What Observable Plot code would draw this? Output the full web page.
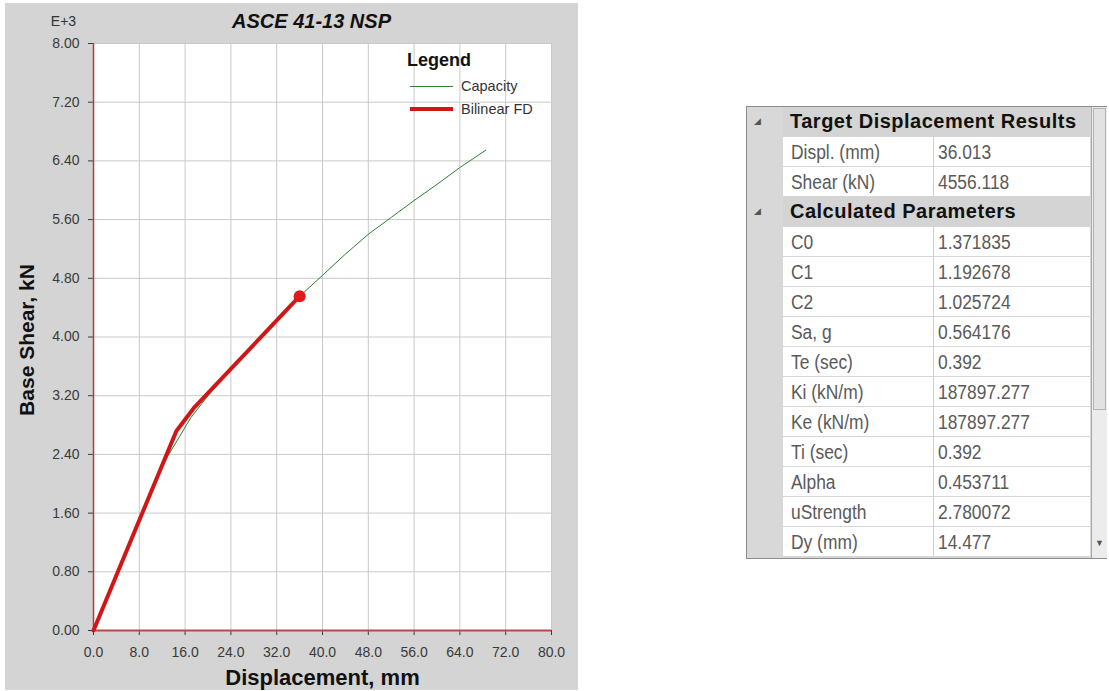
<!DOCTYPE html>
<html>
<head>
<meta charset="utf-8">
<script src="https://cdn.jsdelivr.net/npm/d3@7"></script>
<script src="https://cdn.jsdelivr.net/npm/@observablehq/plot@0.6"></script>
<style>
  html, body { margin: 0; padding: 0; background: #ffffff; }
  #page { position: relative; width: 1109px; height: 691px; overflow: hidden; font-family: "Liberation Sans", Arial, sans-serif; }
  #chart { position: absolute; left: 5px; top: 3px; }
  #legend { position: absolute; left: 404px; top: 49px; width: 140px; height: 75px; font-family: "Liberation Sans", Arial, sans-serif; color: #333; }
  #legend .title { position: absolute; left: 3px; top: 0; font-weight: bold; font-size: 18px; line-height: 22px; color: #111; }
  #legend .item { position: absolute; left: 57px; font-size: 14.5px; line-height: 16px; color: #333; }
  #legend .sw { position: absolute; left: 6px; height: 0; width: 43px; }
  #table { position: absolute; left: 746px; top: 106px; width: 359px; height: 451px; border: 1px solid #8c8c8c; background: #d8d8d8; }
  .row { position: absolute; left: 36px; width: 307px; height: 30px; box-sizing: border-box; }
  .row.head { background: #d4d4d4; border-bottom: 1px solid #d4d4d4; }
  .row.data { background: #ffffff; border-bottom: 1px solid #d6d6d6; }
  .row .lab, .row .val { position: absolute; top: 0; height: 29px; line-height: 30px; font-family: "Liberation Sans", Arial, sans-serif; font-size: 20px; color: #5a5a5a; white-space: nowrap; }
  .row .lab { left: 8px; }
  .row .val { left: 150px; border-left: 1px solid #cfcfcf; padding-left: 4px; height: 30px; }
  .row .lab span, .row .val span { display: inline-block; transform: scaleX(0.87); transform-origin: 0 50%; }
  .row .htxt { position: absolute; left: 7px; top: 0; line-height: 29px; font-weight: bold; font-size: 20px; color: #111; white-space: nowrap; letter-spacing: 0.5px; }
  .tri { position: absolute; left: -29px; top: 9px; font-size: 9px; color: #555; }
  #scroll { position: absolute; left: 344px; top: 0; width: 15px; height: 451px; background: #ececec; border-left: 1px solid #a8a8a8; }
  #thumb { position: absolute; left: 1px; top: 1px; width: 11px; height: 300px; background: #e2e2e2; border: 1px solid #b4b4b4; }
  #arrow { position: absolute; left: 3px; top: 431px; font-size: 9px; color: #555; }
</style>
</head>
<body>
<div id="page">
  <div id="chart"></div>
  <div id="legend"></div>
  <div id="table"></div>
</div>
<script>
// ---- chart data ----
const chartTitle = "ASCE 41-13 NSP";
const xLabel = "Displacement, mm";
const yLabel = "Base Shear, kN";
const yExponent = "E+3";

const xTicks = [0, 8, 16, 24, 32, 40, 48, 56, 64, 72, 80];
const xTickLabels = ["0.0", "8.0", "16.0", "24.0", "32.0", "40.0", "48.0", "56.0", "64.0", "72.0", "80.0"];
const yTicks = [0, 800, 1600, 2400, 3200, 4000, 4800, 5600, 6400, 7200, 8000];
const yTickLabels = ["0.00", "0.80", "1.60", "2.40", "3.20", "4.00", "4.80", "5.60", "6.40", "7.20", "8.00"];

// Capacity curve (displacement mm, base shear kN)
const capacityDispl = [0, 4, 8, 11, 13, 15, 17, 20, 24, 28, 32, 36.013, 40, 44, 48, 52, 56, 60, 64, 68.5];
const capacityShear = [0, 750, 1500, 2060, 2380, 2640, 2900, 3200, 3560, 3880, 4200, 4556, 4840, 5130, 5400, 5630, 5860, 6080, 6310, 6545];

// Bilinear force-displacement
const bilinearDispl = [0, 14.477, 17.5, 36.013];
const bilinearShear = [0, 2720, 3030, 4556.118];

// Target point
const targetDispl = [36.013];
const targetShear = [4556.118];

const seriesNames = ["Capacity", "Bilinear FD"];
const legendTitle = "Legend";

// ---- table data ----
const tableLabels = ["Target Displacement Results", "Displ. (mm)", "Shear (kN)", "Calculated Parameters", "C0", "C1", "C2", "Sa, g", "Te (sec)", "Ki (kN/m)", "Ke (kN/m)", "Ti (sec)", "Alpha", "uStrength", "Dy (mm)"];
const tableValues = [null, "36.013", "4556.118", null, "1.371835", "1.192678", "1.025724", "0.564176", "0.392", "187897.277", "187897.277", "0.392", "0.453711", "2.780072", "14.477"];

// ---- build chart ----
const capacity = capacityDispl.map((d, i) => ({d, v: capacityShear[i]}));
const bilinear = bilinearDispl.map((d, i) => ({d, v: bilinearShear[i]}));
const target = targetDispl.map((d, i) => ({d, v: targetShear[i]}));

const chart = Plot.plot({
  width: 573,
  height: 687,
  marginLeft: 88,
  marginRight: 27,
  marginTop: 40,
  marginBottom: 60,
  style: {background: "#d4d4d4", fontFamily: "'Liberation Sans', Arial, sans-serif", fontSize: "14px", color: "#333", overflow: "visible"},
  x: {domain: [0, 80], axis: null},
  y: {domain: [0, 8000], axis: null},
  marks: [
    Plot.frame({fill: "white", stroke: null}),
    Plot.gridX(xTicks, {stroke: "#c9c9c9", strokeOpacity: 1}),
    Plot.gridY(yTicks, {stroke: "#c9c9c9", strokeOpacity: 1}),
    Plot.axisX(xTicks, {tickFormat: () => "", tickSize: 5, label: null, stroke: "#3a3a3a", anchor: "bottom"}),
    Plot.axisY(yTicks, {tickFormat: () => "", tickSize: 5, label: null, stroke: "#3a3a3a", anchor: "left"}),
    Plot.text(xTicks, {x: d => d, text: d => xTickLabels[xTicks.indexOf(d)], frameAnchor: "bottom", dy: 22, textAnchor: "middle", lineAnchor: "middle", fontSize: 14, fill: "#3a3a3a"}),
    Plot.text(yTicks, {y: d => d, text: d => yTickLabels[yTicks.indexOf(d)], frameAnchor: "left", dx: -14, textAnchor: "end", lineAnchor: "middle", fontSize: 14, fill: "#3a3a3a"}),
    Plot.ruleX([0], {stroke: "#b53a3a", strokeWidth: 1.5}),
    Plot.ruleY([0], {stroke: "#b84848", strokeWidth: 2}),
    Plot.line(capacity, {x: "d", y: "v", stroke: "#2f7d32", strokeWidth: 1}),
    Plot.line(bilinear, {x: "d", y: "v", stroke: "#d01616", strokeWidth: 4, strokeLinejoin: "round", strokeLinecap: "round"}),
    Plot.dot(target, {x: "d", y: "v", r: 6, fill: "#e01a1a", stroke: null}),
    Plot.text([chartTitle], {text: d => d, frameAnchor: "top-left", dx: 218, dy: -22, textAnchor: "middle", lineAnchor: "middle", fontWeight: "bold", fontStyle: "italic", fontSize: 20, fill: "#111"}),
    Plot.text([yExponent], {text: d => d, frameAnchor: "top-left", dx: -30, dy: -22, textAnchor: "middle", lineAnchor: "middle", fontSize: 14, fill: "#333"}),
    Plot.text([xLabel], {text: d => d, frameAnchor: "bottom", dy: 47, textAnchor: "middle", lineAnchor: "middle", fontWeight: "bold", fontSize: 22, fill: "#111"}),
    Plot.text([yLabel], {text: d => d, frameAnchor: "left", dx: -66, dy: 3, rotate: -90, textAnchor: "middle", lineAnchor: "middle", fontWeight: "bold", fontSize: 21, fill: "#111"})
  ]
});
document.getElementById("chart").appendChild(chart);

// ---- legend ----
const legend = document.getElementById("legend");
legend.innerHTML = `<div class="title">${legendTitle}</div>
  <div class="sw" style="top:37px;border-top:1px solid #2f7d32"></div>
  <div class="item" style="top:29px">${seriesNames[0]}</div>
  <div class="sw" style="top:58px;border-top:4px solid #d01616"></div>
  <div class="item" style="top:52px">${seriesNames[1]}</div>`;

// ---- table ----
const table = document.getElementById("table");
let html = "";
tableLabels.forEach((lab, i) => {
  const top = i * 30;
  if (tableValues[i] === null) {
    html += `<div class="row head" style="top:${top}px"><span class="tri">&#9698;</span><span class="htxt">${lab}</span></div>`;
  } else {
    html += `<div class="row data" style="top:${top}px"><span class="lab"><span>${lab}</span></span><span class="val"><span>${tableValues[i]}</span></span></div>`;
  }
});
html += `<div id="scroll"><div id="thumb"></div><div id="arrow">&#9660;</div></div>`;
table.innerHTML = html;
</script>
</body>
</html>
